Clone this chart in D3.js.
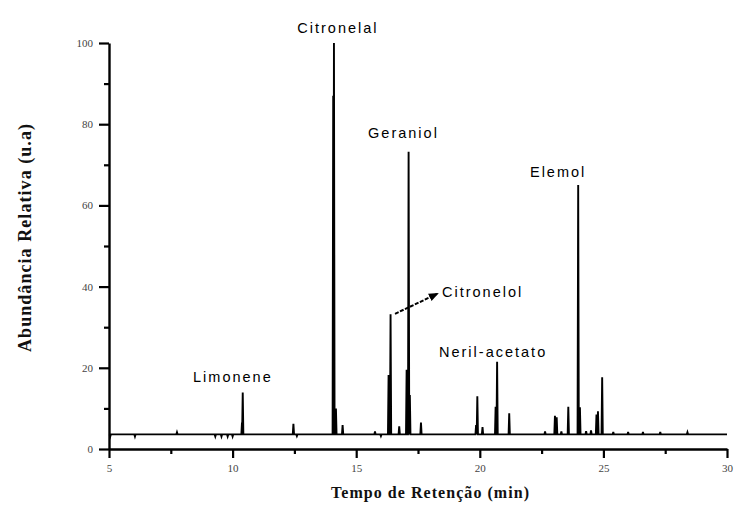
<!DOCTYPE html>
<html>
<head>
<meta charset="utf-8">
<script src="https://d3js.org/d3.v7.min.js"></script>
<style>
  body { margin: 0; background: #fff; }
  .tick text { font-family: "Liberation Serif", "DejaVu Serif", serif; font-size: 11px; fill: #444; }
  .peak-label { font-family: "Liberation Sans", Arial, sans-serif; font-size: 14.5px; letter-spacing: 2px; fill: #000; }
</style>
</head>
<body>
<div id="chart"></div>
<script>
// svg params
var svgWidth = 734;
var svgHeight = 510;

var margin = { top: 43, right: 7, bottom: 61, left: 109 };
var chartWidth = svgWidth - margin.left - margin.right;
var chartHeight = svgHeight - margin.top - margin.bottom;

/// data
var baseline = 3.6;
// retention time (min) of every peak / blip
var peakTimes = [5.05, 6.05, 7.75, 9.3, 9.55, 9.8, 10.0, 10.38, 10.41, 12.46, 12.6,
    14.07, 14.1, 14.14, 14.18, 14.45, 15.76, 16.0,
    16.31, 16.39, 16.74, 17.04, 17.12, 17.17, 17.62,
    19.85, 19.9, 20.11, 20.64, 20.7, 21.19, 22.64,
    23.04, 23.11, 23.3, 23.58, 23.98, 24.05, 24.3, 24.5,
    24.72, 24.78, 24.95, 25.4, 26.0, 26.6, 27.3, 28.4];
// abundance at each peak apex (u.a)
var peakHeights = [3.1, 3.1, 4.1, 3.1, 3.1, 3.1, 3.1, 6.5, 13.9, 6.2, 3.2,
    87, 100, 9.5, 10, 5.9, 4.3, 3.2,
    18.2, 33.2, 5.6, 19.5, 73.2, 13.3, 6.5,
    5.9, 13, 5.4, 10.4, 21.5, 8.8, 4.3,
    8.2, 7.8, 4.3, 10.4, 65, 10.3, 4.4, 4.6,
    8.5, 9.3, 17.7, 4.2, 4.2, 4.2, 4.2, 4.1];

var peakNames = ["Limonene", "Citronelal", "Geraniol", "Citronelol", "Neril-acetato", "Elemol"];

var xTicks = [5, 10, 15, 20, 25, 30];
var yTicks = [0, 20, 40, 60, 80, 100];
var xMinorTicks = [7.5, 12.5, 17.5, 22.5, 27.5];
var yMinorTicks = [10, 30, 50, 70, 90];

var svg = d3.select("#chart")
    .append("svg")
    .attr("width", svgWidth)
    .attr("height", svgHeight);

var graphGroup = svg.append("g")
    .attr("transform", `translate(${margin.left}, ${margin.top})`);

var xScale = d3.scaleLinear().domain([5, 30]).range([0, chartWidth]);
var yScale = d3.scaleLinear().domain([0, 100]).range([chartHeight, 0]);

/// build the trace: baseline with narrow spikes at each peak
var halfW = 0.025;
var trace = [[5, baseline]];
peakTimes.forEach(function(t, i) {
    trace.push([t - halfW, baseline]);
    trace.push([t, peakHeights[i]]);
    trace.push([t + halfW, baseline]);
});
trace.push([30, baseline]);

var line = d3.line()
    .x(d => xScale(d[0]))
    .y(d => yScale(d[1]));

graphGroup.append("path")
    .datum(trace)
    .attr("d", line)
    .attr("fill", "none")
    .attr("stroke", "#000")
    .attr("stroke-width", 1.9)
    .attr("stroke-linejoin", "miter");

/// minor ticks
graphGroup.append("g")
    .attr("transform", `translate(0,${chartHeight})`)
    .call(d3.axisBottom(xScale).tickValues(xMinorTicks).tickSize(5).tickSizeOuter(0).tickFormat(""))
    .call(g => g.select(".domain").remove())
    .selectAll("line").attr("stroke-width", 2.2);

graphGroup.append("g")
    .call(d3.axisLeft(yScale).tickValues(yMinorTicks).tickSize(5).tickSizeOuter(0).tickFormat(""))
    .call(g => g.select(".domain").remove())
    .selectAll("line").attr("stroke-width", 2.2);

/// major axes
var xAxisG = graphGroup.append("g")
    .attr("transform", `translate(0,${chartHeight})`)
    .call(d3.axisBottom(xScale).tickValues(xTicks).tickSize(9).tickSizeOuter(0).tickPadding(6));

var yAxisG = graphGroup.append("g")
    .call(d3.axisLeft(yScale).tickValues(yTicks).tickSize(10).tickSizeOuter(0).tickPadding(6));

[xAxisG, yAxisG].forEach(function(g) {
    g.select(".domain").attr("stroke-width", 2.4);
    g.selectAll(".tick line").attr("stroke-width", 2.2);
});

/// peak labels (anchor in data units)
var labelPos = [
    { t: 8.4, v: 16.5, anchor: "start" },
    { t: 14.26, v: 102.5, anchor: "middle" },
    { t: 15.48, v: 76.6, anchor: "start" },
    { t: 18.47, v: 37.4, anchor: "start" },
    { t: 18.35, v: 22.7, anchor: "start" },
    { t: 22.03, v: 67, anchor: "start" }
];

graphGroup.selectAll(".peak-label")
    .data(peakNames)
    .enter()
    .append("text")
    .attr("class", "peak-label")
    .attr("x", (d, i) => xScale(labelPos[i].t))
    .attr("y", (d, i) => yScale(labelPos[i].v))
    .attr("text-anchor", (d, i) => labelPos[i].anchor)
    .text(d => d);

/// arrow from Citronelol peak to its label
svg.append("defs").append("marker")
    .attr("id", "head")
    .attr("viewBox", "0 0 10 10")
    .attr("refX", 8).attr("refY", 5)
    .attr("markerWidth", 5).attr("markerHeight", 5)
    .attr("orient", "auto")
    .append("path")
    .attr("d", "M0,1 L10,5 L0,9 Z")
    .attr("fill", "#000");

graphGroup.append("line")
    .attr("x1", xScale(16.57)).attr("y1", yScale(33.3))
    .attr("x2", xScale(18.27)).attr("y2", yScale(38.2))
    .attr("stroke", "#000")
    .attr("stroke-width", 2)
    .attr("stroke-dasharray", "4,1.5")
    .attr("marker-end", "url(#head)");

/// axis titles
svg.append("text")
    .attr("transform", "translate(25,238) rotate(-90)")
    .attr("text-anchor", "middle")
    .attr("font-family", "Liberation Serif, serif")
    .attr("font-weight", "bold")
    .attr("font-size", 18)
    .attr("fill", "#111")
    .attr("textLength", 228)
    .attr("dy", "0.35em")
    .text("Abundância Relativa (u.a)");

svg.append("text")
    .attr("x", 430)
    .attr("y", 498)
    .attr("text-anchor", "middle")
    .attr("font-family", "Liberation Serif, serif")
    .attr("font-weight", "bold")
    .attr("font-size", 16)
    .attr("fill", "#111")
    .attr("textLength", 198)
    .text("Tempo de Retenção (min)");
</script>
</body>
</html>
